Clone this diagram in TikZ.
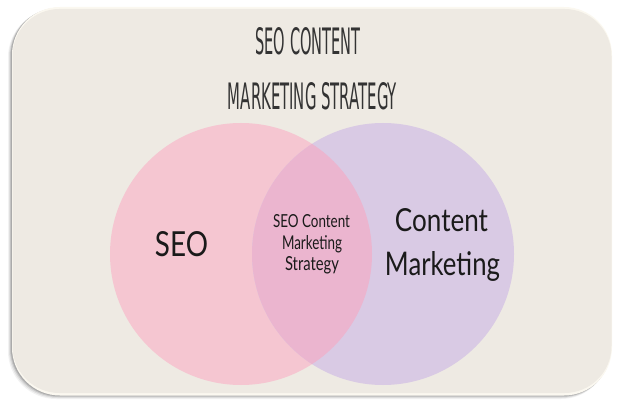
\documentclass[tikz,border=0pt]{standalone}
\usepackage{fontspec}
\setmainfont{Lato}
\newfontfamily\titlefont{DejaVu Sans}
\usetikzlibrary{calc}
\definecolor{bgbox}{HTML}{EEEAE3}
\definecolor{rimc}{HTML}{FBF8F0}
\definecolor{pinkc}{HTML}{F5C6D1}
\definecolor{purplec}{HTML}{D9CAE4}
\definecolor{overlapc}{HTML}{EBB5CF}
\definecolor{titlec}{HTML}{333333}
\definecolor{txtc}{HTML}{1A1A1A}
\newcommand{\fitw}[3]{\resizebox{#1pt}{#2pt}{#3}}
\tikzset{
  lbl/.style={inner sep=0pt, anchor=base, text=txtc},
  ttl/.style={inner sep=0pt, anchor=base, text=titlec, font=\titlefont},
}
\begin{document}
\begin{tikzpicture}[x=1pt,y=1pt]
\useasboundingbox (0,0) rectangle (623,407);
% shadow (left and bottom)
\foreach \o/\a in {4/0.05,3/0.08,2/0.11,1.2/0.14}{
  \fill[black,opacity=\a,rounded corners=48pt] (12-\o,12-\o) rectangle (612-\o*0.8,400-\o*0.6);
}
% box with rim
\fill[rimc, rounded corners=48pt] (12,11.5) rectangle (612,400);
\node[draw=none, fill=bgbox, rounded corners=47pt, minimum width=599pt, minimum height=384pt, inner sep=0pt] (box) at (312,206) {};
% circles
\path (241,153) coordinate (cl) (383,153) coordinate (cr);
\node[circle, fill=pinkc, minimum size=262pt, inner sep=0pt] (seo) at (cl) {};
\node[circle, fill=purplec, minimum size=262pt, inner sep=0pt] (cm) at (cr) {};
\begin{scope}
  \clip (cl) circle (131pt);
  \fill[overlapc] (cr) circle (131pt);
\end{scope}
% title
\node[ttl] (t1) at (308,352) {\fitw{105}{27}{SEO CONTENT}};
\node[ttl] (t2) at (312.5,297) {\fitw{169}{27}{MARKETING STRATEGY}};
% labels
\node[lbl] (lseo) at (181.5,150) {\fitw{53}{25}{SEO}};
\node[lbl] (lc) at (441.5,175) {\fitw{93}{23}{Content}};
\node[lbl] (lm) at (442.5,131) {\fitw{115}{24}{Marketing}};
\node[lbl] (m1) at (311.5,179) {\fitw{77}{13}{SEO Content}};
\node[lbl] (m2) at (312,157) {\fitw{60}{14}{Marketing}};
\node[lbl] (m3) at (312,136) {\fitw{54}{14}{Strategy}};
\end{tikzpicture}
\end{document}
